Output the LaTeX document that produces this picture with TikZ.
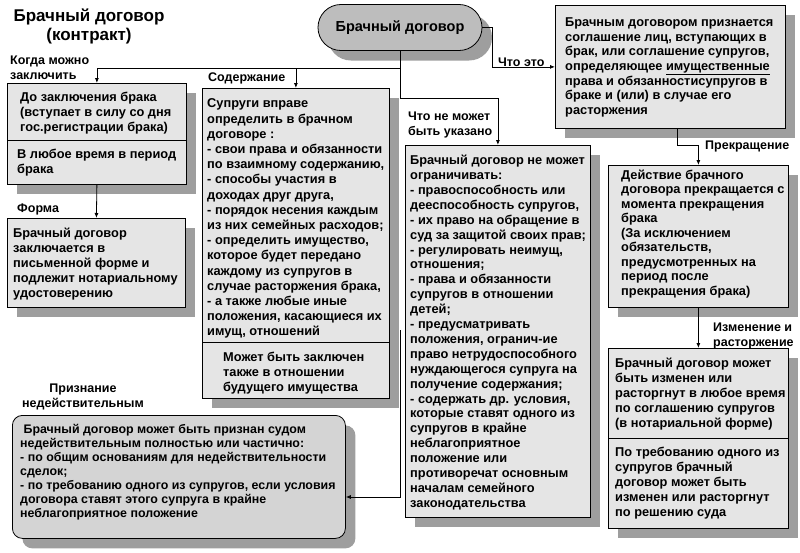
\documentclass[tikz,border=0pt]{standalone}
\usepackage{fontspec}
\setmainfont{Liberation Sans}
\usetikzlibrary{shadows,arrows.meta,calc}
\definecolor{boxfill}{gray}{0.9}
\definecolor{shadowc}{gray}{0.62}
\definecolor{pillfill}{gray}{0.74}
\definecolor{hfill}{gray}{0.83}
\tikzset{
  box/.style={draw=black, fill=boxfill, line width=0.8pt, inner sep=0pt, anchor=north west,
    drop shadow={shadow xshift=10pt, shadow yshift=-10pt, fill=shadowc, opacity=1}},
  txt/.style={inner sep=0pt, anchor=north west, align=left,
    font=\fontsize{12.8}{14.9}\selectfont\bfseries},
  lbl/.style={inner sep=0pt, anchor=north west, align=left,
    font=\fontsize{12.5}{15}\selectfont\bfseries},
  conn/.style={draw=black, line width=0.8pt, -{Latex[length=5pt,width=4pt]}},
  plain/.style={draw=black, line width=0.8pt},
}
\begin{document}
\begin{tikzpicture}[x=1pt,y=-1pt]
\useasboundingbox (0,0) rectangle (800,552);
% title
\node[inner sep=0pt, anchor=north, align=center, font=\fontsize{17}{19}\selectfont\bfseries] (title) at (89,7.7) {\strut Брачный договор\\(контракт)};
% pill
\node[draw=black, fill=pillfill, line width=0.8pt, minimum width=164pt, minimum height=46pt, rounded corners=22.9pt, inner sep=0pt,
  font=\fontsize{14.5}{16}\selectfont\bfseries,
  drop shadow={shadow xshift=10pt, shadow yshift=-10pt, fill=shadowc, opacity=1}] (P) at (400,27.5) {Брачный договор};
% boxes
\node[box, minimum width=179pt, minimum height=101pt] (A) at (7,83) {};
\node[box, minimum width=178pt, minimum height=89pt] (B) at (7,218) {};
\node[box, minimum width=187pt, minimum height=310pt] (C) at (202,88) {};
\node[box, minimum width=185pt, minimum height=372pt] (D) at (405,145) {};
\node[box, minimum width=230pt, minimum height=123pt] (E) at (555,5) {};
\node[box, minimum width=180pt, minimum height=142pt] (F) at (608,165) {};
\node[box, minimum width=180pt, minimum height=180pt] (G) at (608,348) {};
\node[box, fill=hfill, rounded corners=10pt, minimum width=333pt, minimum height=123pt] (H) at (12,415) {};
% dividers
\draw[plain] (A.west |- 0,140) -- (A.east |- 0,140);
\draw[plain] (C.west |- 0,342) -- (C.east |- 0,342);
\draw[plain] (G.west |- 0,438) -- (G.east |- 0,438);
% box texts
\node[txt] (tA1) at (20,91) {\strut До заключения брака\\(вступает в силу со дня\\гос.регистрации брака)};
\node[txt] (tA2) at (17,148) {\strut В любое время в период\\брака};
\node[txt] (tB) at (13,227) {\strut Брачный договор\\заключается в\\письменной форме и\\подлежит нотариальному\\удостоверению};
\node[txt, font=\fontsize{12.8}{15.2}\selectfont\bfseries] (tC1) at (207,97) {\strut Супруги вправе\\определить в брачном\\договоре :\\- свои права и обязанности\\по взаимному содержанию,\\- способы участия в\\доходах друг друга,\\- порядок несения каждым\\из них семейных расходов;\\- определить имущество,\\которое будет передано\\каждому из супругов в\\случае расторжения брака,\\- а также любые иные\\положения, касающиеся их\\имущ, отношений};
\node[txt] (tC2) at (223,351) {\strut Может быть заключен\\также в отношении\\будущего имущества};
\node[txt] (tD) at (410,154) {\strut Брачный договор не может\\ограничивать:\\- правоспособность или\\дееспособность супругов,\\- их право на обращение в\\суд за защитой своих прав;\\- регулировать неимущ,\\отношения;\\- права и обязанности\\супругов в отношении\\детей;\\- предусматривать\\положения, огранич-ие\\право нетрудоспособного\\нуждающегося супруга на\\получение содержания;\\- содержать др. условия,\\которые ставят одного из\\супругов в крайне\\неблагоприятное\\положение или\\противоречат основным\\началам семейного\\законодательства};
\node[txt, font=\fontsize{12.8}{14.7}\selectfont\bfseries] (tE) at (565,16) {\strut Брачным договором признается\\соглашение лиц, вступающих в\\брак,  или соглашение супругов,\\определяющее \underline{имущественные}\\права и обязанностисупругов в\\браке и (или) в случае его\\расторжения};
\node[txt, font=\fontsize{12.8}{14.5}\selectfont\bfseries] (tF) at (621,169) {\strut Действие брачного\\договора прекращается с\\момента прекращения\\брака\\(За исключением\\обязательств,\\предусмотренных на\\период после\\прекращения брака)};
\node[txt] (tG1) at (615,357) {\strut Брачный договор может\\быть изменен или\\расторгнут в любое время\\по соглашению супругов\\(в  нотариальной форме)};
\node[txt] (tG2) at (615,446) {\strut По требованию одного из\\супругов брачный\\договор может быть\\изменен или расторгнут\\по решению суда};
\node[txt, font=\fontsize{12.4}{13.9}\selectfont\bfseries] (tH) at (20,424) {\strut\ Брачный договор может быть признан судом\\недействительным полностью или частично:\\- по общим основаниям для недействительности\\сделок;\\- по требованию одного из супругов, если условия\\договора ставят этого супруга в крайне\\неблагоприятное положение};
% labels
\node[lbl] (l1) at (10,54) {\strut Когда можно\\заключить};
\node[lbl] (l2) at (208,71) {\strut Содержание};
\node[lbl] (l3) at (408,110) {\strut Что не может\\быть указано};
\node[lbl] (l4) at (498,56) {\strut Что это};
\node[lbl] (l5) at (705,139) {\strut Прекращение};
\node[lbl] (l6) at (713,321) {\strut Изменение и\\расторжение};
\node[lbl] (l7) at (17,202) {\strut Форма};
\node[lbl, anchor=north, align=center] (l8) at (83,382) {\strut Признание\\недействительным};
% connectors
\coordinate (j1) at (400,68);
\coordinate (j2) at (400,98);
\coordinate (h1) at (400,330);
\coordinate (h2) at (400,497);
\draw[plain] (P.south) -- (j2);
\draw[conn] (j2) -| (D.north);
\draw[conn] (j1) -| (A.north);
\draw[conn] (j1) -| (C.north);
\draw[conn] (P.east) -- ++(10,0) |- (E.west);
\draw[conn] ($(E.south)+(7,0)$) -- ++(0,17) -| (F.north);
\draw[conn] (F.south) -- (G.north);
\draw[conn] (A.south) -- (B.north);
\draw[conn] (h1) -- (h2) -- (h2 -| H.east);
\end{tikzpicture}
\end{document}
